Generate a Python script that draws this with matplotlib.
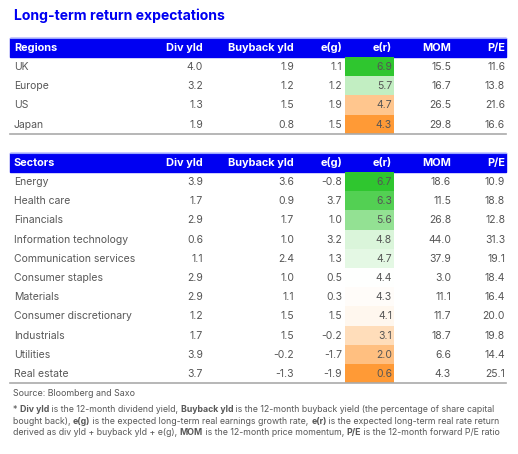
import numpy as np
import matplotlib
matplotlib.use('Agg')
import matplotlib.pyplot as plt
from matplotlib.colors import LinearSegmentedColormap, TwoSlopeNorm
from matplotlib.patches import Rectangle

plt.rcParams['font.family'] = ['Inter', 'DejaVu Sans']

TITLE = 'Long-term return expectations'
COLUMNS = ['Div yld', 'Buyback yld', 'e(g)', 'e(r)', 'MOM', 'P/E']

REGIONS = ['UK', 'Europe', 'US', 'Japan']
REG_DIV = [4.0, 3.2, 1.3, 1.9]
REG_BUY = [1.9, 1.2, 1.5, 0.8]
REG_EG = [1.1, 1.2, 1.9, 1.5]
REG_ER = [6.9, 5.7, 4.7, 4.3]
REG_MOM = [15.5, 16.7, 26.5, 29.8]
REG_PE = [11.6, 13.8, 21.6, 16.6]

SECTORS = ['Energy', 'Health care', 'Financials', 'Information technology',
           'Communication services', 'Consumer staples', 'Materials',
           'Consumer discretionary', 'Industrials', 'Utilities', 'Real estate']
SEC_DIV = [3.9, 1.7, 2.9, 0.6, 1.1, 2.9, 2.9, 1.2, 1.7, 3.9, 3.7]
SEC_BUY = [3.6, 0.9, 1.7, 1.0, 2.4, 1.0, 1.1, 1.5, 1.5, -0.2, -1.3]
SEC_EG = [-0.8, 3.7, 1.0, 3.2, 1.3, 0.5, 0.3, 1.5, -0.2, -1.7, -1.9]
SEC_ER = [6.7, 6.3, 5.6, 4.8, 4.7, 4.4, 4.3, 4.1, 3.1, 2.0, 0.6]
SEC_MOM = [18.6, 11.5, 26.8, 44.0, 37.9, 3.0, 11.1, 11.7, 18.7, 6.6, 4.3]
SEC_PE = [10.9, 18.8, 12.8, 31.3, 19.1, 18.4, 16.4, 20.0, 19.8, 14.4, 25.1]

SOURCE = 'Source: Bloomberg and Saxo'
FOOTNOTE = [
    [('* ', False), ('Div yld', True), (' is the 12-month dividend yield, ', False),
     ('Buyback yld', True),
     (' is the 12-month buyback yield (the percentage of share capital', False)],
    [('bought back), ', False), ('e(g)', True),
     (' is the expected long-term real earnings growth rate, ', False),
     ('e(r)', True), (' is the expected long-term real rate return', False)],
    [('derived as div yld + buyback yld + e(g), ', False), ('MOM', True),
     (' is the 12-month price momentum, ', False), ('P/E', True),
     (' is the 12-month forward P/E ratio', False)],
]

BLUE = '#0000f2'
LABEL = '#585858'
NUM = '#555555'
LINE = '#aaaaaa'
CMAP = LinearSegmentedColormap.from_list('er', ['#ff9a36', '#ffffff', '#2fc62f'])

W, H = 518, 454
COL_RIGHT = [203, 294, 342, 392, 451, 505]
X0, X1 = 10, 506
ER_X0, ER_X1 = 345, 394
ROW_H = 19.2
ROW_FS = 7.5


def draw_table(ax, top, name, labels, cols, er):
    # header bar
    ax.add_patch(Rectangle((X0, top), X1 - X0, 19, color=BLUE, zorder=1))
    ax.plot([X0, X1], [top - 0.5, top - 0.5], color='#9aa6ff', lw=0.8, zorder=2)
    ax.text(14, top + 9.8, name, color='white', fontsize=7.9, fontweight='bold',
            va='center', ha='left')
    for c, x in zip(COLUMNS, COL_RIGHT):
        ax.text(x, top + 9.8, c, color='white', fontsize=7.9, fontweight='bold',
                va='center', ha='right')
    norm = TwoSlopeNorm(vmin=min(er), vcenter=float(np.median(er)), vmax=max(er))
    y = top + 19
    for i, lab in enumerate(labels):
        ax.add_patch(Rectangle((ER_X0, y), ER_X1 - ER_X0, ROW_H,
                               color=CMAP(norm(er[i])), zorder=1, lw=0))
        yc = y + ROW_H / 2 + 0.5
        ax.text(14, yc, lab, color=LABEL, fontsize=ROW_FS, va='center', ha='left')
        for vals, x in zip(cols, COL_RIGHT):
            ax.text(x, yc, f'{vals[i]:.1f}', color=NUM, fontsize=ROW_FS,
                    va='center', ha='right')
        y += ROW_H
    ax.plot([X0, X1], [y, y], color=LINE, lw=1.2, zorder=2)


def rich_line(ax, fig, x, y, parts, size):
    r = fig.canvas.get_renderer()
    for txt, bold in parts:
        t = ax.text(x, y, txt, fontsize=size, color=LABEL,
                    fontweight='bold' if bold else 'normal',
                    va='center', ha='left')
        bb = t.get_window_extent(r)
        x += bb.width


fig = plt.figure(figsize=(W / 100, H / 100), dpi=100)
ax = fig.add_axes([0, 0, 1, 1])
ax.set_xlim(0, W)
ax.set_ylim(H, 0)
ax.axis('off')

ax.text(14, 15.5, TITLE, color=BLUE, fontsize=10.1, fontweight='bold',
        va='center', ha='left')

draw_table(ax, 38, 'Regions', REGIONS,
           [REG_DIV, REG_BUY, REG_EG, REG_ER, REG_MOM, REG_PE], REG_ER)
draw_table(ax, 153, 'Sectors', SECTORS,
           [SEC_DIV, SEC_BUY, SEC_EG, SEC_ER, SEC_MOM, SEC_PE], SEC_ER)

ax.text(13, 393.5, SOURCE, color=LABEL, fontsize=6.4, va='center', ha='left')
for k, parts in enumerate(FOOTNOTE):
    rich_line(ax, fig, 13, 409.5 + k * 11.7, parts, 6.3)

fig.savefig('out.png', dpi=100, facecolor='white')
